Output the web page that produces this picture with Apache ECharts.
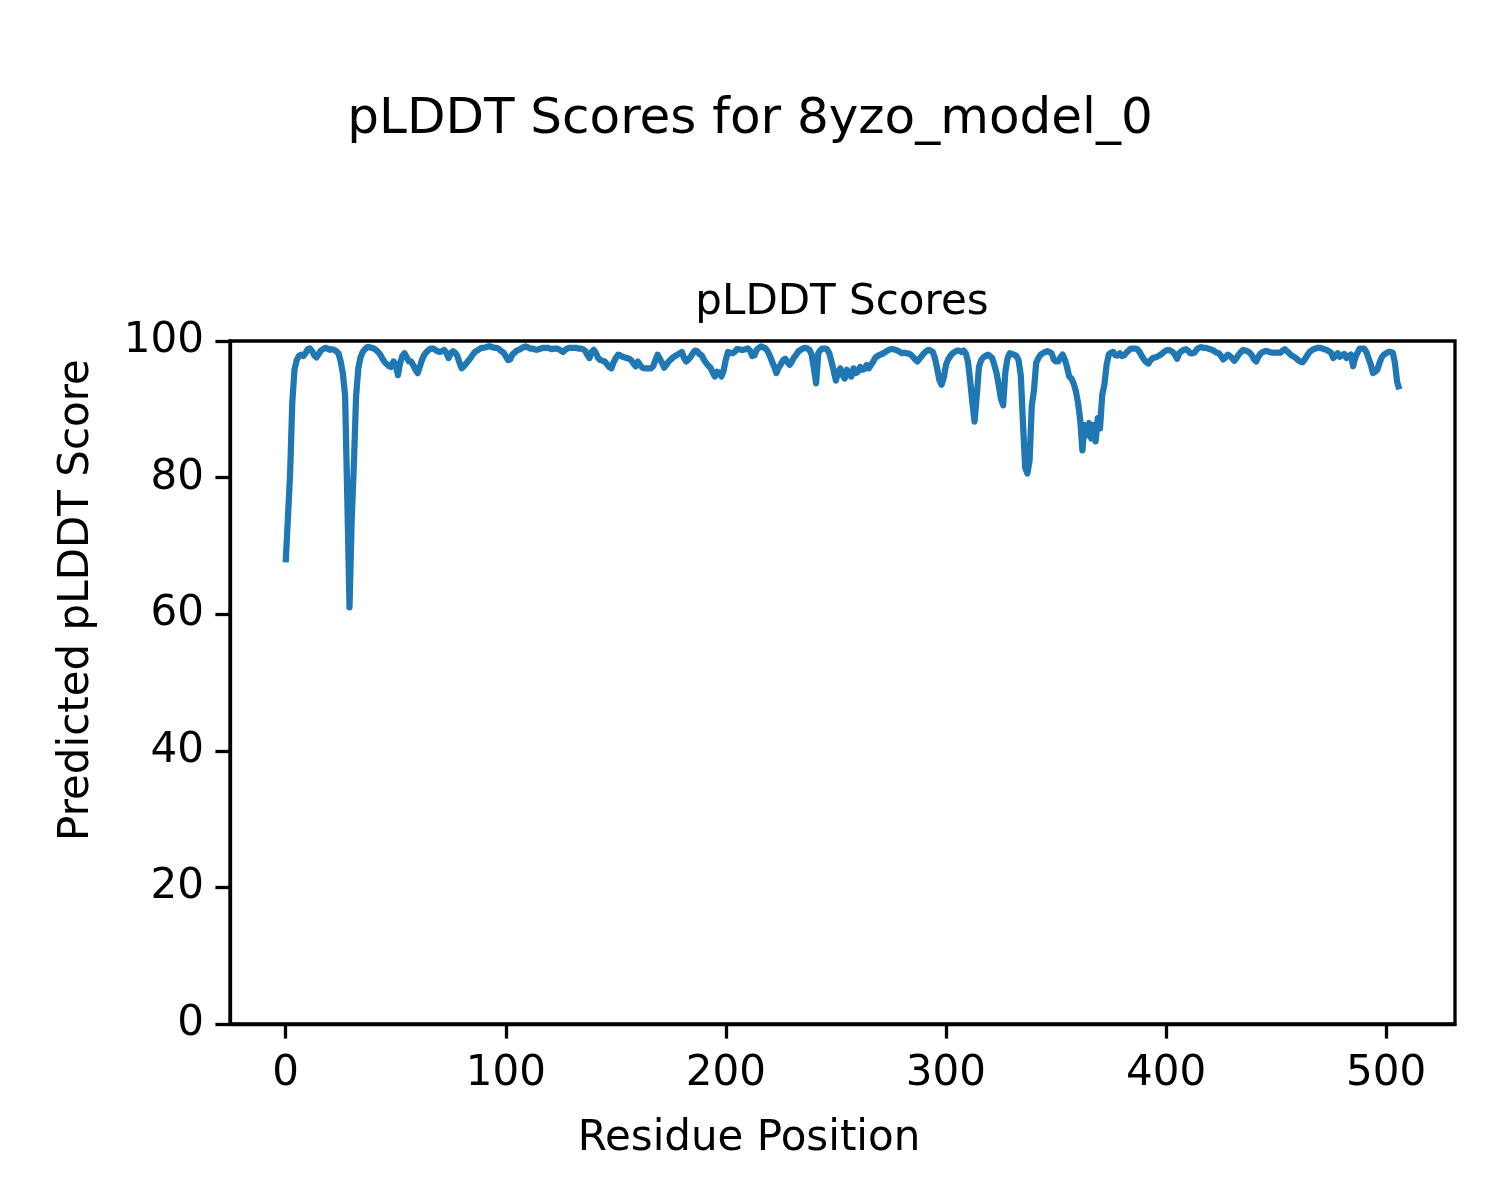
<!DOCTYPE html>
<html>
<head>
<meta charset="utf-8">
<script src="https://cdn.jsdelivr.net/npm/echarts@6/dist/echarts.min.js"></script>
<style>html,body{margin:0;padding:0;background:#fff;}#c{width:1500px;height:1200px;}</style>
</head>
<body>
<div id="c"></div>
<script>
// pLDDT values per residue position (0..506)
const scores000 = [67.6,74,80.5,91,95.8,97.2,97.8,98,97.8,98.2,
  98.8,98.9,98.5,97.9,97.6,98.1,98.6,98.8,99,98.9,
  98.7,98.8,98.7,98.5,98.2,97,95.2,92,77,61,
  74,82,92,96,97.6,98.4,98.8,99.1,99.1,99,
  98.9,98.7,98.4,98,97.4,96.9,96.6,96.3,96.2,97.0];
const scores050 = [96.5,95.0,96.8,97.8,98.2,97.6,97.0,97.0,96.4,95.8,
  95.3,96.3,97.3,98.0,98.4,98.7,98.9,98.9,98.7,98.5,
  98.4,98.5,98.7,98.3,97.5,98.2,98.5,98.3,97.8,96.8,
  96.0,96.3,96.7,97.1,97.5,98.0,98.4,98.6,98.8,99.0,
  99.0,99.1,99.2,99.2,99.1,99.0,99.0,98.8,98.5,98.3];
const scores100 = [97.8,97.2,97.3,98.0,98.3,98.6,98.7,98.9,99.1,99.2,
  99.1,98.9,98.9,98.8,98.7,98.8,98.9,99.0,99.0,99.0,
  98.9,98.8,98.9,98.9,98.8,98.6,98.4,98.7,98.9,99.0,
  99.0,99.0,99.0,98.9,98.9,98.8,98.6,98.0,97.5,98.4,
  98.7,98.2,97.5,97.2,97.1,97.0,96.6,96.2,96.0,96.9];
const scores150 = [97.5,98.0,97.9,97.7,97.6,97.5,97.4,97.2,96.7,96.3,
  97.0,96.5,96.1,96.0,96.0,96.0,96.0,96.3,97.2,98.0,
  97.4,96.8,96.1,96.5,97.0,97.3,97.6,97.8,98.0,98.2,
  98.4,97.5,97.0,97.3,97.7,98.2,98.6,98.5,98.1,97.9,
  97.3,96.8,96.4,96.1,95.4,94.8,95.5,95.4,94.8,95.7];
const scores200 = [97.3,98.4,98.3,98.2,98.4,98.8,98.8,98.7,98.7,98.8,
  98.9,98.6,97.8,97.9,98.7,99.0,99.2,99.1,98.9,98.5,
  97.8,97.0,96.2,95.3,96.1,96.6,97.2,97.4,96.9,96.5,
  97.0,97.6,98.0,98.5,98.7,98.9,99.0,98.9,98.7,98.0,
  96.0,93.8,98.2,98.7,98.9,98.9,98.8,98.2,97.0,95.6];
const scores250 = [94.2,95.5,96.0,95.0,94.5,95.8,95.0,94.8,96.0,95.3,
  95.5,96.2,95.8,95.9,96.5,96.0,96.5,97.0,97.6,97.8,
  98.0,98.1,98.3,98.5,98.7,98.8,98.8,98.7,98.6,98.4,
  98.2,98.3,98.2,98.2,98.0,97.7,97.3,97.0,97.4,97.8,
  98.2,98.5,98.7,98.6,98.4,97.5,96.0,94.3,93.6,94.6];
const scores300 = [96.5,97.3,97.8,98.2,98.4,98.6,98.6,98.4,98.6,98.2,
  97.0,94.2,91.0,88.2,92.0,96.2,97.2,97.6,97.8,98.0,
  97.8,97.5,96.5,95.3,93.5,91.5,90.6,95.5,97.5,98.2,
  98.1,98.0,97.8,97.2,95.0,88.0,81.5,80.6,82.5,90.5,
  92.8,96.8,97.5,98.0,98.2,98.4,98.5,98.4,98.2,97.3];
const scores350 = [97.0,97.0,97.6,98.0,97.3,96.2,94.8,94.5,93.8,92.7,
  91.0,88.5,84.0,87.7,86.2,88.0,85.7,87.7,85.3,88.7,
  87.2,92.1,93.6,96.5,98.0,98.3,98.4,97.9,97.9,98.2,
  97.8,97.9,98.3,98.6,98.9,98.9,98.9,98.8,98.4,97.8,
  97.3,96.9,96.7,97.2,97.5,97.6,97.7,97.9,98.1,98.4];
const scores400 = [98.6,98.7,98.6,98.4,98.0,97.4,98.2,98.5,98.7,98.8,
  98.6,98.2,98.2,98.3,98.8,99.0,99.1,99.0,99.0,98.9,
  98.8,98.7,98.5,98.3,98.2,97.8,97.3,97.6,98.0,97.8,
  97.5,97.1,97.5,98.0,98.4,98.7,98.6,98.5,98.3,97.9,
  97.3,97.0,97.7,98.2,98.4,98.5,98.5,98.4,98.3,98.3];
const scores450 = [98.3,98.3,98.3,98.6,98.8,98.5,98.2,97.9,97.7,97.5,
  97.2,97.0,96.9,97.3,97.8,98.3,98.6,98.8,98.9,99.0,
  99.0,98.9,98.8,98.7,98.5,98.3,97.5,97.8,98.2,97.7,
  97.9,98.1,97.5,97.8,98.0,96.3,97.6,98.3,98.9,98.9,
  98.9,98.4,97.5,96.6,95.3,95.5,95.8,96.8,97.6,98.0,
  98.2,98.4,98.4,98.3,96.8,94.0,92.9];

const xTickValues = [0, 100, 200, 300, 400, 500];
const yTickValues = [0, 20, 40, 60, 80, 100];

const figTitle = 'pLDDT Scores for 8yzo_model_0';
const axTitle = 'pLDDT Scores';
const xLabel = 'Residue Position';
const yLabel = 'Predicted pLDDT Score';

const scores = [].concat(scores000, scores050, scores100, scores150, scores200,
  scores250, scores300, scores350, scores400, scores450);
const seriesData = scores.map((v, i) => [i, v]);
const n = scores.length - 1;
const pad = n * 0.05;

const FONT = 'DejaVu Sans';
const chart = echarts.init(document.getElementById('c'), null, {renderer: 'canvas'});
const axisLine = {show: true, onZero: false, lineStyle: {color: '#000', width: 3.3}};
chart.setOption({
  animation: false,
  backgroundColor: '#fff',
  grid: {left: 230, top: 341, width: 1225, height: 683, show: true, borderColor: '#000', borderWidth: 3.3, containLabel: false},
  xAxis: {
    type: 'value', min: -pad, max: n + pad,
    axisLine: axisLine,
    axisTick: {show: true, length: 14.6, lineStyle: {color: '#000', width: 3.3}, customValues: xTickValues},
    axisLabel: {color: '#000', fontSize: 42, fontFamily: FONT, margin: 29, customValues: xTickValues},
    splitLine: {show: false}
  },
  yAxis: {
    type: 'value', min: 0, max: 100, interval: 20,
    axisLine: axisLine,
    axisTick: {show: true, length: 14.6, lineStyle: {color: '#000', width: 3.3}, customValues: yTickValues},
    axisLabel: {color: '#000', fontSize: 42, fontFamily: FONT, margin: 26, customValues: yTickValues},
    splitLine: {show: false}
  },
  series: [{
    type: 'line', data: seriesData, showSymbol: false, symbol: 'none',
    lineStyle: {color: '#1f77b4', width: 6.25, join: 'round', cap: 'butt'},
    itemStyle: {color: '#1f77b4'}, clip: true
  }],
  graphic: [
    {type: 'text', x: 750, y: 120, style: {text: figTitle, font: '50px "DejaVu Sans"', fill: '#000', textAlign: 'center', textVerticalAlign: 'middle'}},
    {type: 'text', x: 842, y: 303, style: {text: axTitle, font: '42px "DejaVu Sans"', fill: '#000', textAlign: 'center', textVerticalAlign: 'middle'}},
    {type: 'text', x: 749, y: 1139, style: {text: xLabel, font: '42px "DejaVu Sans"', fill: '#000', textAlign: 'center', textVerticalAlign: 'middle'}},
    {type: 'text', x: 77, y: 600, rotation: Math.PI / 2, style: {text: yLabel, font: '42px "DejaVu Sans"', fill: '#000', textAlign: 'center', textVerticalAlign: 'middle'}}
  ]
});
</script>
</body>
</html>
